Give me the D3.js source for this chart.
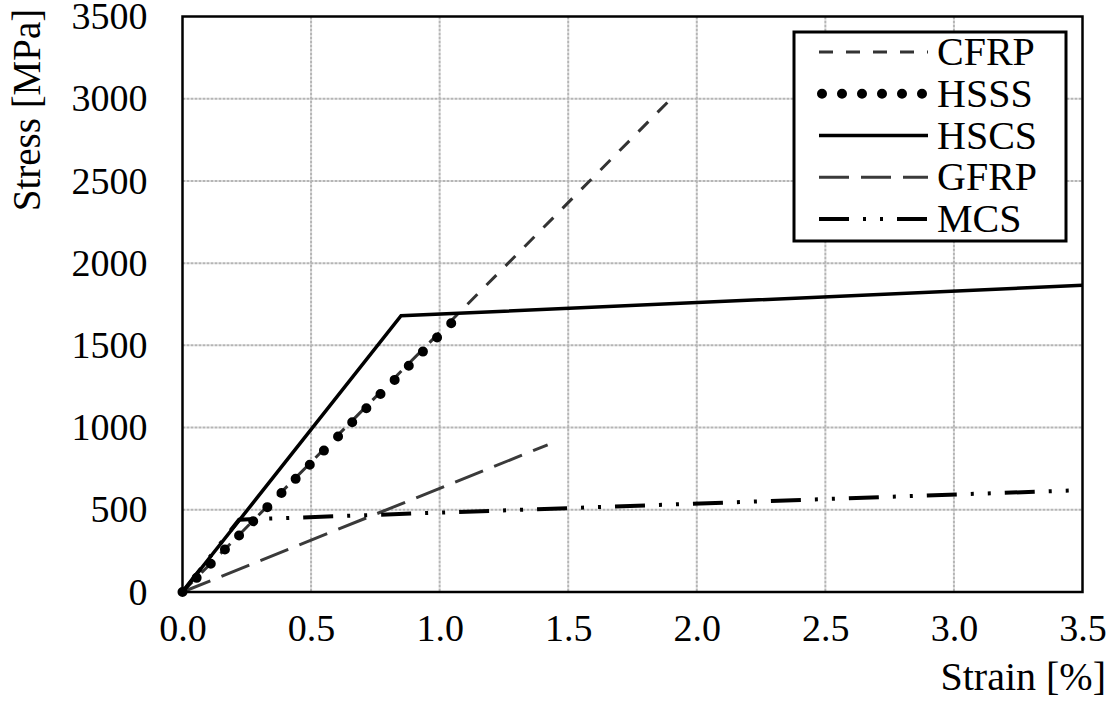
<html>
<head>
<meta charset="utf-8">
<script src="https://d3js.org/d3.v7.min.js"></script>
<style>
body { margin: 0; background: #fff; }
text { font-family: "Liberation Serif", "Times New Roman", serif; fill: #000; }
</style>
</head>
<body>
<svg width="1111" height="707" id="chart"></svg>
<script>
// series (strain in %, stress in MPa)
var cfrpStrain = [0, 1.9],         cfrpStress = [0, 3000];
var hsssStrain = [0, 1.1],         hsssStress = [0, 1720];
var hscsStrain = [0, 0.85, 3.5],   hscsStress = [0, 1680, 1865];
var gfrpStrain = [0, 1.42],        gfrpStress = [0, 895];
var mcsStrain  = [0, 0.22, 3.5],   mcsStress  = [0, 440, 620];

var seriesNames = ["CFRP", "HSSS", "HSCS", "GFRP", "MCS"];
var xTicks = [0, 0.5, 1.0, 1.5, 2.0, 2.5, 3.0, 3.5];
var yTicks = [0, 500, 1000, 1500, 2000, 2500, 3000, 3500];

var pL = 182.5, pR = 1082.5, pT = 16.5, pB = 592;

var x = d3.scaleLinear().domain([0, 3.5]).range([pL, pR]);
var y = d3.scaleLinear().domain([0, 3500]).range([pB, pT]);

var svg = d3.select("#chart");

// line styles
var styles = {
  CFRP: {stroke: "#333", width: 3, dash: "14,13", cap: "butt"},
  HSSS: {stroke: "#000", width: 10, dash: "0,20", cap: "round"},
  HSCS: {stroke: "#000", width: 3.5, dash: null, cap: "butt"},
  GFRP: {stroke: "#3a3a3a", width: 3, dash: "30,12", cap: "butt"},
  MCS:  {stroke: "#000", width: 4, dash: "30,14,3,14,3,14", cap: "butt"}
};

function pts(xs, ys) { return xs.map(function(d, i){ return [d, ys[i]]; }); }
var series = [
  {name: "CFRP", values: pts(cfrpStrain, cfrpStress)},
  {name: "GFRP", values: pts(gfrpStrain, gfrpStress)},
  {name: "MCS",  values: pts(mcsStrain, mcsStress)},
  {name: "HSSS", values: pts(hsssStrain, hsssStress)},
  {name: "HSCS", values: pts(hscsStrain, hscsStress)}
];

// grid
svg.append("g").selectAll("line").data(xTicks.slice(1, -1)).enter().append("line")
  .attr("x1", function(d){ return x(d); }).attr("x2", function(d){ return x(d); })
  .attr("y1", pT).attr("y2", pB)
  .attr("stroke", "#b5b5b5").attr("stroke-width", 2).attr("stroke-dasharray", "3,1");
svg.append("g").selectAll("line").data(yTicks.slice(1, -1)).enter().append("line")
  .attr("y1", function(d){ return y(d); }).attr("y2", function(d){ return y(d); })
  .attr("x1", pL).attr("x2", pR)
  .attr("stroke", "#b5b5b5").attr("stroke-width", 2).attr("stroke-dasharray", "3,1");

// lines
var line = d3.line().x(function(d){ return x(d[0]); }).y(function(d){ return y(d[1]); });
svg.append("g").selectAll("path").data(series).enter().append("path")
  .attr("d", function(d){ return line(d.values); })
  .attr("fill", "none")
  .attr("stroke", function(d){ return styles[d.name].stroke; })
  .attr("stroke-width", function(d){ return styles[d.name].width; })
  .attr("stroke-dasharray", function(d){
    if (d.name === "HSSS") {
      // spread the dots so one sits on the last point
      var len = this.getTotalLength();
      return "0," + (len / Math.round(len / 20));
    }
    return styles[d.name].dash;
  })
  .attr("stroke-linecap", function(d){ return styles[d.name].cap; });

// frame
svg.append("rect").attr("x", pL).attr("y", pT)
  .attr("width", pR - pL).attr("height", pB - pT)
  .attr("fill", "none").attr("stroke", "#000").attr("stroke-width", 2.5);

// axes labels
var xAxis = d3.axisBottom(x).tickValues(xTicks).tickFormat(d3.format(".1f")).tickSize(0).tickPadding(22);
var gx = svg.append("g").attr("transform", "translate(0," + pB + ")").call(xAxis);
gx.select(".domain").remove();
gx.selectAll("text").style("font-size", "38px").style("font-family", "Liberation Serif").attr("fill", "#000");

var yAxis = d3.axisLeft(y).tickValues(yTicks).tickFormat(d3.format("d")).tickSize(0).tickPadding(35);
var gy = svg.append("g").attr("transform", "translate(" + pL + ",0)").call(yAxis);
gy.select(".domain").remove();
gy.selectAll("text").style("font-size", "38px").style("font-family", "Liberation Serif").attr("fill", "#000");

svg.append("text").attr("x", 1106).attr("y", 690).attr("text-anchor", "end")
  .style("font-size", "40px").text("Strain [%]");
svg.append("text").attr("transform", "translate(40,110) rotate(-90)").attr("text-anchor", "middle")
  .style("font-size", "39px").text("Stress [MPa]");

// legend
svg.append("rect").attr("x", 794).attr("y", 32).attr("width", 272).attr("height", 209)
  .attr("fill", "#fff").attr("stroke", "#000").attr("stroke-width", 3);
var legendY = d3.scalePoint().domain(seriesNames).range([52, 219]);
var lg = svg.append("g").selectAll("g").data(seriesNames).enter().append("g")
  .attr("transform", function(d){ return "translate(0," + legendY(d) + ")"; });
lg.append("line").attr("x1", function(d){ return d === "HSSS" ? 822 : 819; }).attr("x2", 928)
  .attr("stroke", function(d){ return styles[d].stroke; })
  .attr("stroke-width", function(d){ return styles[d].width; })
  .attr("stroke-dasharray", function(d){ return styles[d].dash; })
  .attr("stroke-linecap", function(d){ return styles[d].cap; });
lg.append("text").attr("x", 937).attr("y", 13).style("font-size", "40px")
  .text(function(d){ return d; });
</script>
</body>
</html>
